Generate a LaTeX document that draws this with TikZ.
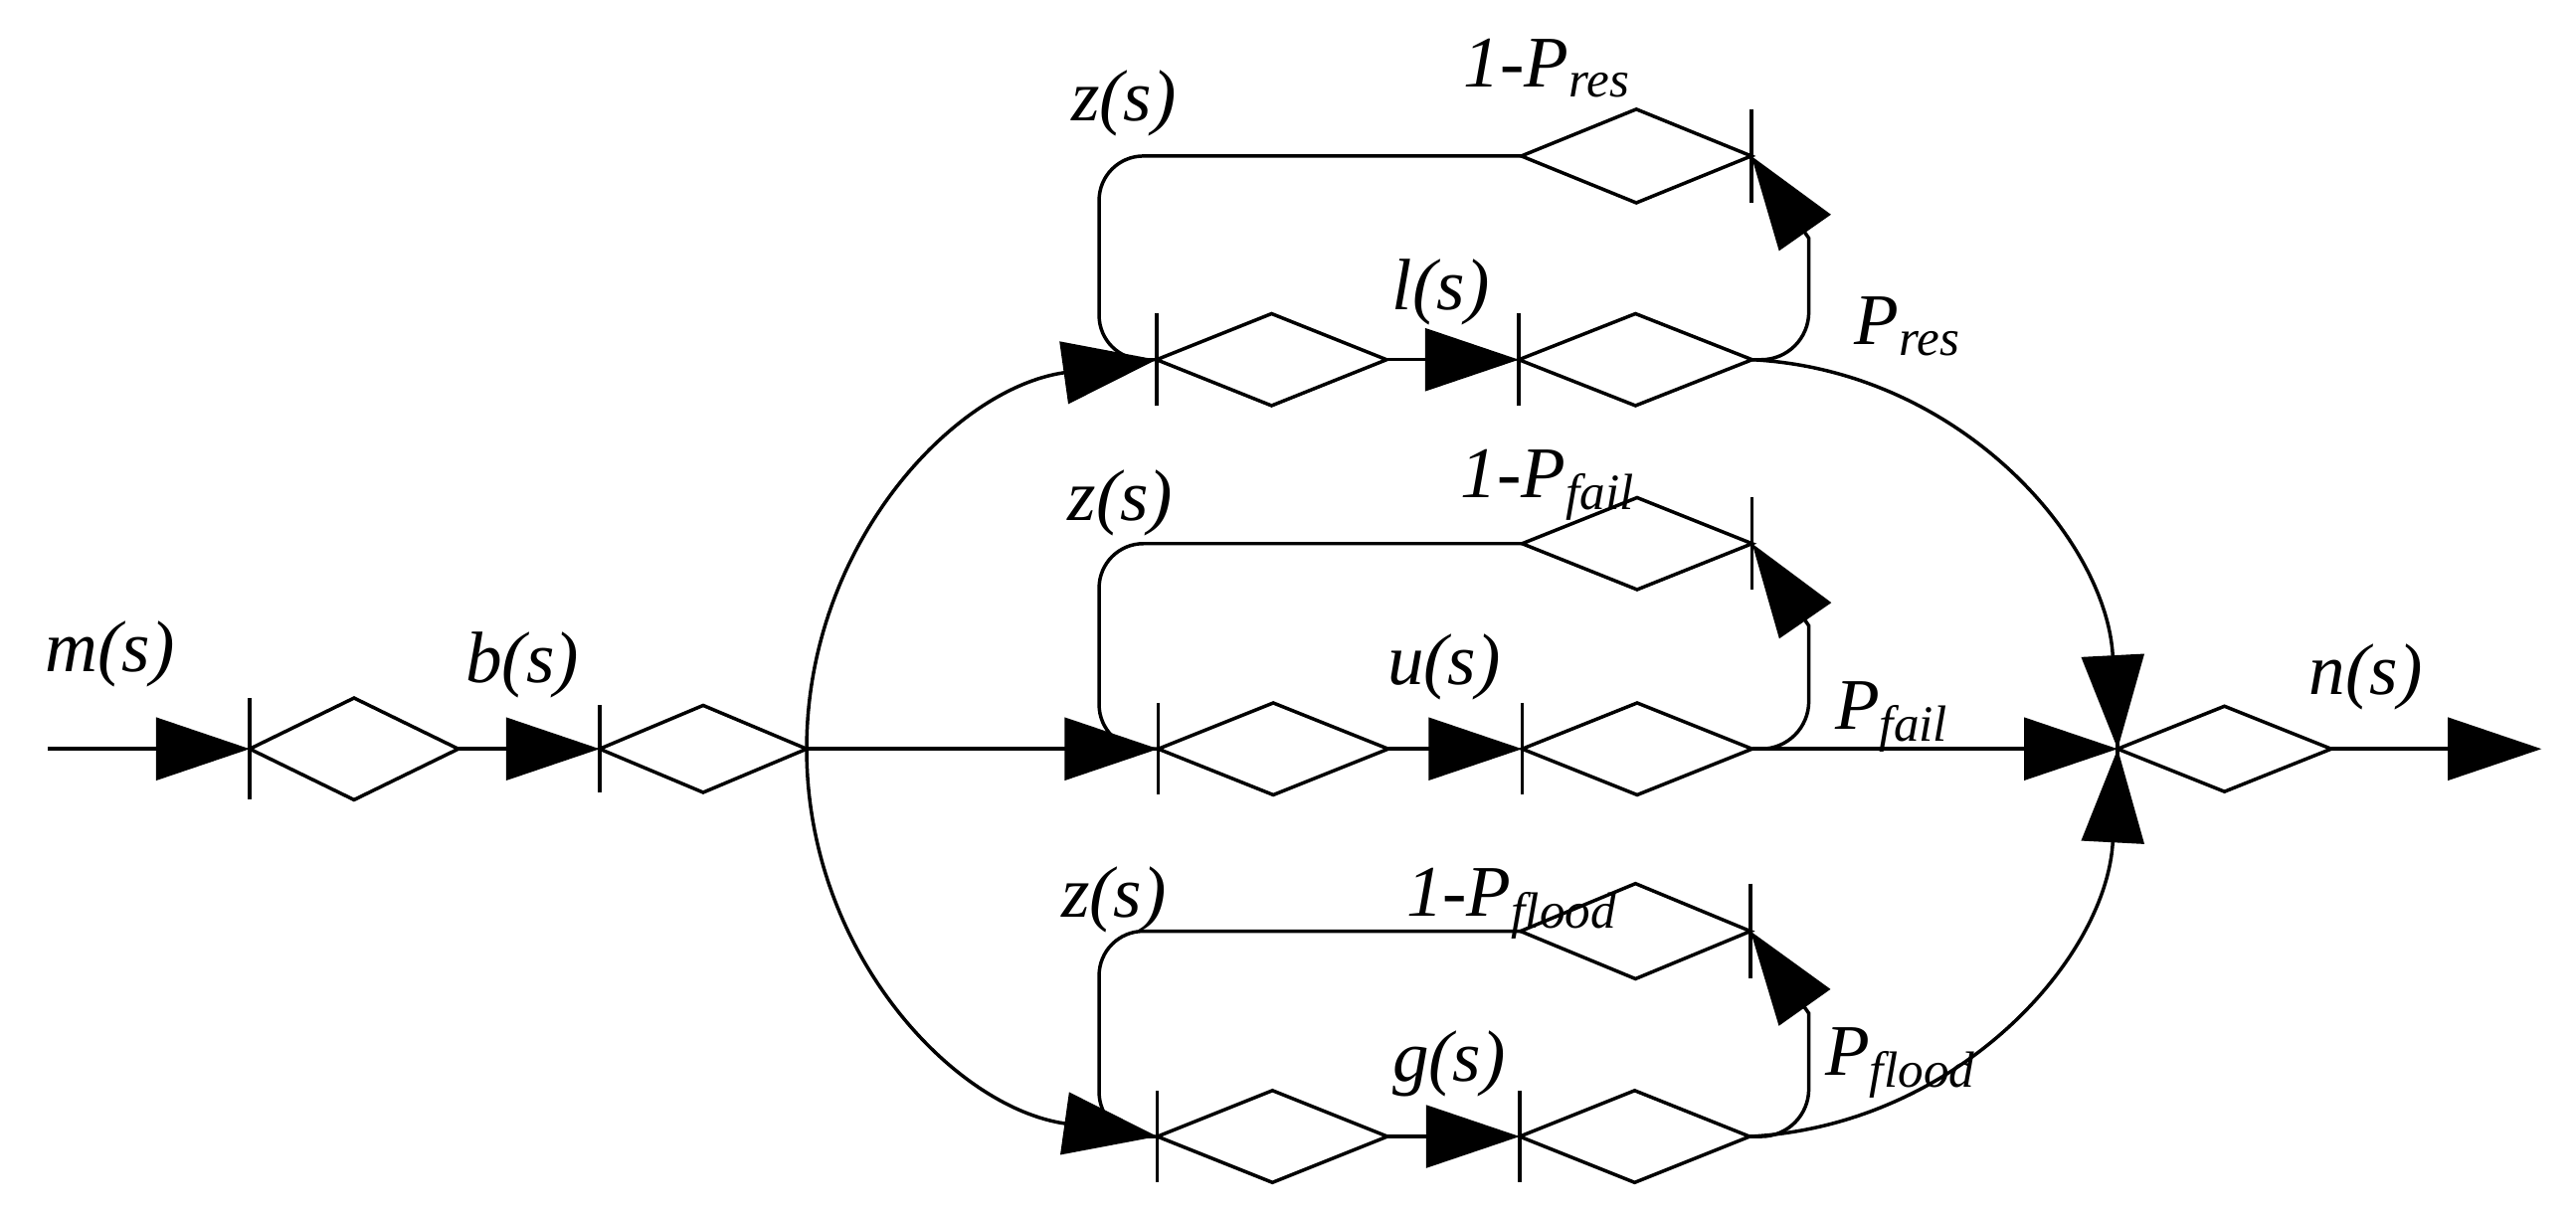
\documentclass[tikz,border=0pt]{standalone}
\usepackage{fontspec}
\setmainfont{Liberation Serif}
\usepackage{tikz}
\usetikzlibrary{shapes.geometric,arrows.meta,calc}

\begin{document}
\begin{tikzpicture}[
    line width=0.6pt,
    gnode/.style={diamond, draw, minimum width=14mm, minimum height=5.6mm, inner sep=0pt, outer sep=0pt},
    flow/.style={-{Triangle[length=5.7mm, width=3.8mm]}},
    lbl/.style={font=\itshape\fontsize{12.6}{15}\selectfont, inner sep=0pt},
    scale=1.0
]
    \useasboundingbox (0,0) rectangle (15.68,-7.39);

    % Input chain
    \coordinate (src) at (0.29,-4.56);
    \node[gnode, minimum width=12.7mm, minimum height=6.2mm] (m) at (2.155,-4.56) {};
    \node[gnode, minimum width=12.6mm, minimum height=5.3mm] (b) at (4.28,-4.56) {};

    % Upper branch
    \node[gnode] (resin) at (7.74,-2.19) {};
    \node[gnode, minimum width=14.2mm] (resout) at (9.955,-2.19) {};
    \node[gnode, minimum height=5.7mm] (resfb) at (9.96,-0.95) {};

    % Middle branch
    \node[gnode] (failin) at (7.75,-4.56) {};
    \node[gnode] (failout) at (9.965,-4.56) {};
    \node[gnode] (failfb) at (9.965,-3.31) {};

    % Lower branch
    \node[gnode] (floodin) at (7.745,-6.92) {};
    \node[gnode] (floodout) at (9.95,-6.92) {};
    \node[gnode, minimum height=5.8mm] (floodfb) at (9.955,-5.67) {};

    % Output
    \node[gnode, minimum width=13mm, minimum height=5.2mm] (n) at (13.54,-4.56) {};
    \coordinate (sink) at (15.47,-4.56);

    % Input bars
    \foreach \g in {m,b,resin,resout,failin,failout,floodin,floodout,n}
        \draw (\g.north -| \g.west) -- (\g.south -| \g.west);
    \foreach \g in {resfb,failfb,floodfb}
        \draw (\g.north -| \g.east) -- (\g.south -| \g.east);

    \draw[flow] (src) -- (m.west);
    \draw[flow] (m.east) -- (b.west);
    \draw[flow] (b.east) to[out=90, in=188] (resin.west);
    \draw[flow] (b.east) -- (failin.west);
    \draw[flow] (b.east) to[out=-90, in=172] (floodin.west);

    \draw[flow] (resin.east) -- (resout.west);
    \draw[flow] (failin.east) -- (failout.west);
    \draw[flow] (floodin.east) -- (floodout.west);

    % Feedback loops
    \draw[flow] (resout.east) [rounded corners=2.9mm] -- (11.01,-2.19) [sharp corners] -- (11.01,-1.45) -- (resfb.east);
    \draw[rounded corners=2.7mm] (resfb.west) -| (6.69,-2.19) -- (resin.west);
    \draw[flow] (failout.east) [rounded corners=2.9mm] -- (11.01,-4.56) [sharp corners] -- (11.01,-3.81) -- (failfb.east);
    \draw[rounded corners=2.7mm] (failfb.west) -| (6.69,-4.56) -- (failin.west);
    \draw[flow] (floodout.east) [rounded corners=2.9mm] -- (11.01,-6.92) [sharp corners] -- (11.01,-6.17) -- (floodfb.east);
    \draw[rounded corners=2.7mm] (floodfb.west) -| (6.69,-6.92) -- (floodin.west);

    \draw[flow] (resout.east) to[out=-3, in=93] (n.west);
    \draw[flow] (failout.east) -- (n.west);
    \draw[flow] (floodout.east) to[out=3, in=-93] (n.west);
    \draw[flow] (n.east) -- (sink);

    % Labels
    \node[lbl] (mlbl) at (0.67,-3.98) {m(s)};
    \node[lbl] (blbl) at (3.18,-4.05) {b(s)};
    \node[lbl] (zres) at (6.84,-0.63) {z(s)};
    \node[lbl] (zfail) at (6.82,-3.06) {z(s)};
    \node[lbl] (zflood) at (6.78,-5.48) {z(s)};
    \node[lbl] (llbl) at (8.77,-1.78) {l(s)};
    \node[lbl] (ulbl) at (8.79,-4.06) {u(s)};
    \node[lbl] (glbl) at (8.82,-6.48) {g(s)};
    \node[lbl] (nlbl) at (14.40,-4.12) {n(s)};
    \node[lbl, anchor=base west] (qres) at (8.90,-0.53) {1-P\textsubscript{res}};
    \node[lbl, anchor=base west] (qfail) at (8.88,-3.03) {1-P\textsubscript{fail}};
    \node[lbl, anchor=base west] (qflood) at (8.55,-5.58) {1-P\textsubscript{flood}};
    \node[lbl, anchor=base west] (pres) at (11.28,-2.10) {P\textsubscript{res}};
    \node[lbl, anchor=base west] (pfail) at (11.16,-4.44) {P\textsubscript{fail}};
    \node[lbl, anchor=base west] (pflood) at (11.10,-6.55) {P\textsubscript{flood}};
\end{tikzpicture}
\end{document}
